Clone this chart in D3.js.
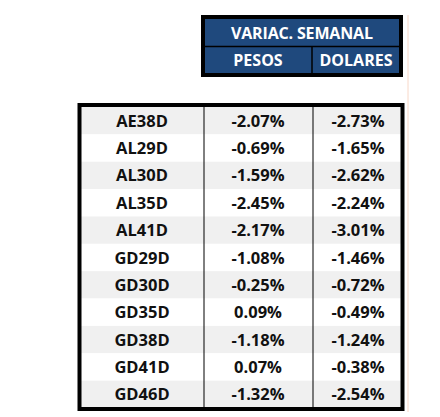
<!DOCTYPE html><html><head><meta charset="utf-8">
<script src="https://cdn.jsdelivr.net/npm/d3@7"></script>
<style>body{margin:0;background:#fff}</style></head><body><svg id="c" width="440" height="417"></svg>
<script>
const bonds=["AE38D","AL29D","AL30D","AL35D","AL41D","GD29D","GD30D","GD35D","GD38D","GD41D","GD46D"];
const pesos=[-2.07,-0.69,-1.59,-2.45,-2.17,-1.08,-0.25,0.09,-1.18,0.07,-1.32];
const dolares=[-2.73,-1.65,-2.62,-2.24,-3.01,-1.46,-0.72,-0.49,-1.24,-0.38,-2.54];
const headers=["PESOS","DOLARES"];
const title="VARIAC. SEMANAL";
const svg=d3.select("#c");
const font="'Open Sans', 'Liberation Sans', sans-serif";
svg.append("line").attr("x1",408).attr("x2",408).attr("y1",15).attr("y2",412).attr("stroke","#f8d8c8").attr("stroke-width",1);
svg.append("rect").attr("x",203).attr("y",17).attr("width",198).attr("height",58).attr("fill","#1f497d").attr("stroke","#000").attr("stroke-width",4);
svg.append("line").attr("x1",205).attr("x2",399).attr("y1",46.5).attr("y2",46.5).attr("stroke","#000").attr("stroke-width",1.5);
svg.append("line").attr("x1",312).attr("x2",312).attr("y1",46).attr("y2",73).attr("stroke","#000").attr("stroke-width",1.5);
svg.append("text").attr("x",302).attr("y",39).attr("text-anchor","middle").attr("fill","#fff").attr("font-family",font).attr("font-weight","bold").attr("font-size",16).attr("textLength",142).text(title);
[258,356].forEach((x,i)=>svg.append("text").attr("x",x).attr("y",66).attr("text-anchor","middle").attr("fill","#fff").attr("font-family",font).attr("font-weight","bold").attr("font-size",16).text(headers[i]));
const y=d3.scaleBand().domain(bonds).range([107,408]);
const fmt=v=>v.toFixed(2)+"%";
const g=svg.append("g");
g.selectAll("rect.r").data(bonds).join("rect").attr("x",80).attr("width",322).attr("y",d=>y(d)).attr("height",y.bandwidth()).attr("fill",(d,i)=>i%2?"#fff":"#f0f0f0");
const cols=[{x:142,v:d=>d},{x:258,v:(d,i)=>fmt(pesos[i])},{x:358,v:(d,i)=>fmt(dolares[i])}];
cols.forEach(c=>g.selectAll(null).data(bonds).join("text").attr("x",c.x).attr("y",d=>y(d)+y.bandwidth()/2+6).attr("text-anchor","middle").attr("font-family",font).attr("font-weight","bold").attr("font-size",16.5).attr("fill","#111").text(c.v));
[204,313].forEach(x=>g.append("line").attr("x1",x).attr("x2",x).attr("y1",105).attr("y2",410).attr("stroke","#000").attr("stroke-width",1));
g.append("rect").attr("x",79.5).attr("y",105).attr("width",323).attr("height",304).attr("fill","none").attr("stroke","#000").attr("stroke-width",4);
</script></body></html>
